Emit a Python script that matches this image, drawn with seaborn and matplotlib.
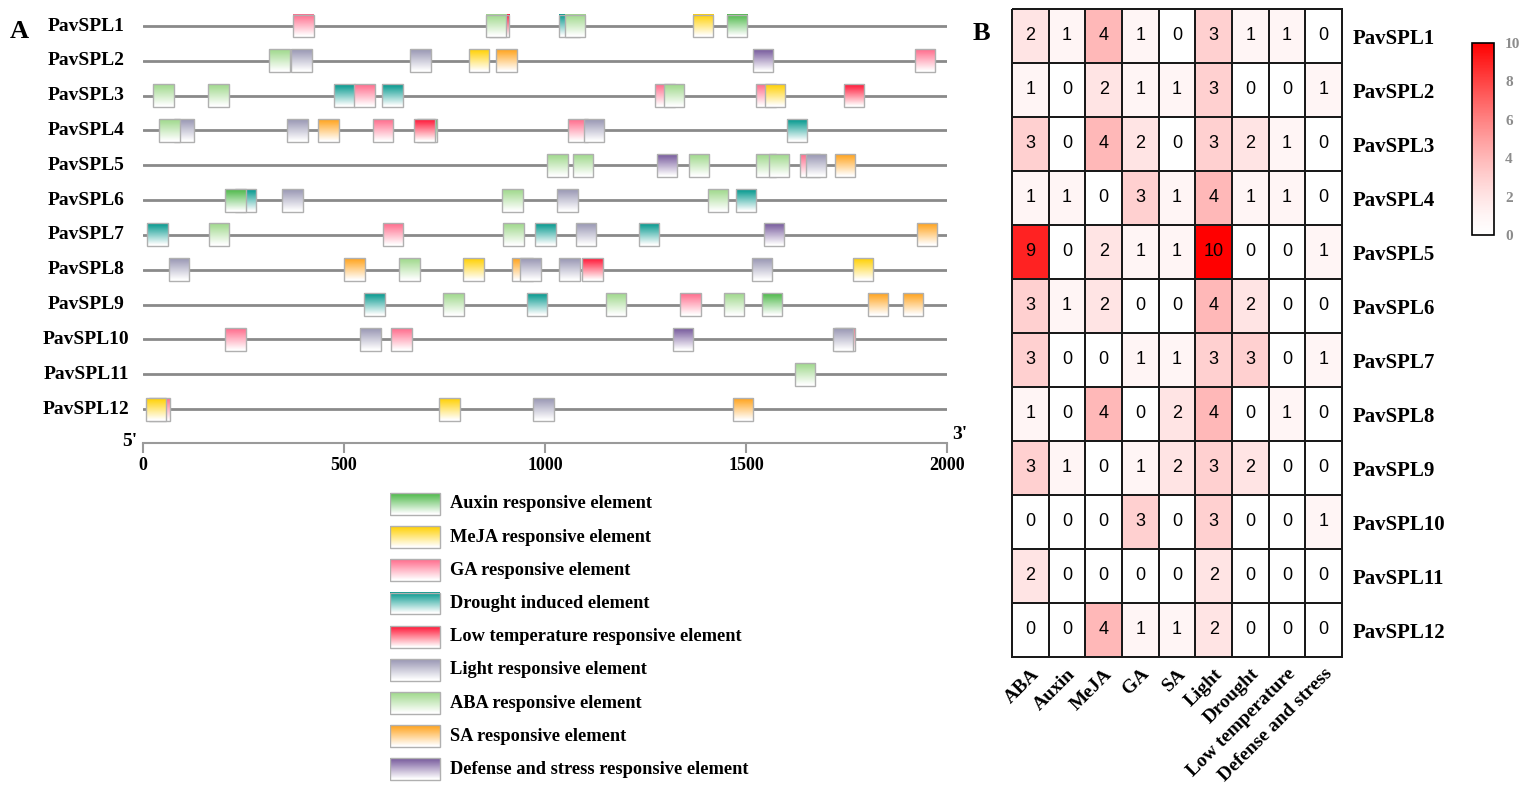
import numpy as np
import pandas as pd
import seaborn as sns
import matplotlib.pyplot as plt
from matplotlib.patches import Rectangle
from matplotlib.colors import LinearSegmentedColormap, to_rgb

sns.set_theme(style='white')
plt.rcParams['font.family'] = ['Liberation Serif', 'DejaVu Serif']
plt.rcParams['text.color'] = 'black'
plt.rcParams['xtick.labelcolor'] = 'black'
plt.rcParams['ytick.labelcolor'] = 'black'

W, H = 1528, 797

GENES = ['PavSPL1', 'PavSPL2', 'PavSPL3', 'PavSPL4', 'PavSPL5', 'PavSPL6',
         'PavSPL7', 'PavSPL8', 'PavSPL9', 'PavSPL10', 'PavSPL11', 'PavSPL12']

# (element type, start position in bp), in drawing order
SPL1 = [('GA', 374), ('LowT', 860), ('ABA', 852), ('Drought', 1036), ('ABA', 1049),
        ('MeJA', 1367), ('Auxin', 1452)]
SPL2 = [('ABA', 314), ('Light', 369), ('Light', 665), ('MeJA', 810), ('SA', 879),
        ('Defense', 1517), ('GA', 1920)]
SPL3 = [('ABA', 25), ('ABA', 162), ('Drought', 476), ('GA', 526), ('Drought', 595),
        ('GA', 1273), ('ABA', 1295), ('GA', 1524), ('MeJA', 1547), ('LowT', 1743)]
SPL4 = [('Light', 77), ('ABA', 40), ('Light', 359), ('SA', 436), ('GA', 572),
        ('Auxin', 681), ('LowT', 675), ('GA', 1056), ('Light', 1096), ('Drought', 1601)]
SPL5 = [('ABA', 1006), ('ABA', 1069), ('Defense', 1278), ('ABA', 1357), ('ABA', 1524),
        ('ABA', 1557), ('GA', 1634), ('Light', 1649), ('SA', 1721)]
SPL6 = [('Drought', 229), ('Auxin', 204), ('Light', 346), ('ABA', 894), ('Light', 1031),
        ('ABA', 1405), ('Drought', 1474)]
SPL7 = [('Drought', 10), ('ABA', 164), ('GA', 597), ('ABA', 896), ('Drought', 976),
        ('Light', 1076), ('Drought', 1233), ('Defense', 1544), ('SA', 1925)]
SPL8 = [('Light', 64), ('SA', 500), ('ABA', 637), ('MeJA', 797), ('SA', 919),
        ('Light', 939), ('Light', 1036), ('LowT', 1093), ('Light', 1514), ('MeJA', 1766)]
SPL9 = [('Drought', 550), ('ABA', 747), ('Drought', 954), ('ABA', 1151), ('GA', 1337),
        ('ABA', 1445), ('Auxin', 1539), ('SA', 1803), ('SA', 1890)]
SPL10 = [('GA', 204), ('Light', 540), ('GA', 618), ('Defense', 1318), ('GA', 1721),
         ('Light', 1716)]
SPL11 = [('ABA', 1621)]
SPL12 = [('GA', 15), ('MeJA', 7), ('MeJA', 737), ('Light', 971), ('SA', 1467)]
ELEMENTS = [SPL1, SPL2, SPL3, SPL4, SPL5, SPL6, SPL7, SPL8, SPL9, SPL10, SPL11, SPL12]

LEGEND_KEYS = ['Auxin', 'MeJA', 'GA', 'Drought', 'LowT', 'Light', 'ABA', 'SA', 'Defense']
LEGEND_LABELS = ['Auxin responsive element', 'MeJA responsive element',
                 'GA responsive element', 'Drought induced element',
                 'Low temperature responsive element', 'Light responsive element',
                 'ABA responsive element', 'SA responsive element',
                 'Defense and stress responsive element']
TYPE_COLORS = {'Auxin': '#4cb848', 'MeJA': '#ffd000', 'GA': '#ff6b8b',
               'Drought': '#00978c', 'LowT': '#ff1535', 'Light': '#9896b3',
               'ABA': '#9ed88a', 'SA': '#ffa21a', 'Defense': '#75589b'}

AXIS_TICKS = [0, 500, 1000, 1500, 2000]

HEAT_COLS = ['ABA', 'Auxin', 'MeJA', 'GA', 'SA', 'Light', 'Drought',
             'Low temperature', 'Defense and stress']
HEAT_VALUES = [
    [2, 1, 4, 1, 0, 3, 1, 1, 0],
    [1, 0, 2, 1, 1, 3, 0, 0, 1],
    [3, 0, 4, 2, 0, 3, 2, 1, 0],
    [1, 1, 0, 3, 1, 4, 1, 1, 0],
    [9, 0, 2, 1, 1, 10, 0, 0, 1],
    [3, 1, 2, 0, 0, 4, 2, 0, 0],
    [3, 0, 0, 1, 1, 3, 3, 0, 1],
    [1, 0, 4, 0, 2, 4, 0, 1, 0],
    [3, 1, 0, 1, 2, 3, 2, 0, 0],
    [0, 0, 0, 3, 0, 3, 0, 0, 1],
    [2, 0, 0, 0, 0, 2, 0, 0, 0],
    [0, 0, 4, 1, 1, 2, 0, 0, 0],
]

BOX_W = 51
BOX_H = 0.66
BOLD = dict(family=['Liberation Serif', 'DejaVu Serif'], fontweight='bold')


def draw_box(ax, x0, yc, w, h, color):
    t = np.linspace(0, 1, 40)[:, None, None]
    c = np.array(to_rgb(color))[None, None, :]
    wgt = np.clip(1 - t * 1.05, 0, 1)
    grad = c * wgt + (1 - wgt)
    ax.imshow(grad, extent=[x0, x0 + w, yc + h / 2, yc - h / 2], aspect='auto',
              interpolation='bilinear', zorder=3)
    ax.add_patch(Rectangle((x0, yc - h / 2), w, h, fill=False, ec='#b0b0b0',
                           lw=1, zorder=3))


fig = plt.figure(figsize=(W / 100, H / 100), dpi=100)

# Panel A: promoter diagrams
ax_a = fig.add_axes([143 / W, 1 - 443 / H, (947 - 143) / W, (443 - 8) / H])
for i, (gene, elems) in enumerate(zip(GENES, ELEMENTS)):
    ax_a.plot([0, 2000], [i, i], color='#8a8a8a', lw=2, zorder=1)
    for kind, start in elems:
        draw_box(ax_a, start, i, BOX_W, BOX_H, TYPE_COLORS[kind])
    ax_a.text(-142, i, gene, ha='center', va='center', fontsize=14, clip_on=False, **BOLD)
ax_a.set_xlim(0, 2000)
ax_a.set_ylim(11.976, -0.517)
for s in ['top', 'left', 'right']:
    ax_a.spines[s].set_visible(False)
ax_a.spines['bottom'].set_color('#9a9a9a')
ax_a.spines['bottom'].set_linewidth(1.5)
ax_a.set_yticks([])
ax_a.set_xticks(AXIS_TICKS)
ax_a.set_xticklabels([str(t) for t in AXIS_TICKS], fontsize=13, **BOLD)
ax_a.tick_params(axis='x', direction='out', length=7, width=1.5, color='#9a9a9a',
                 labelcolor='black', pad=3, bottom=True)
ax_a.grid(False)
ax_a.text(-32, 11.92, "5'", ha='center', va='center', fontsize=14, clip_on=False, **BOLD)
ax_a.text(2032, 11.72, "3'", ha='center', va='center', fontsize=14, clip_on=False, **BOLD)

# legend
ax_l = fig.add_axes([390 / W, 1 - 786 / H, 410 / W, (786 - 487.4) / H])
for i, (key, lab) in enumerate(zip(LEGEND_KEYS, LEGEND_LABELS)):
    draw_box(ax_l, 0, i, 50, BOX_H, TYPE_COLORS[key])
    ax_l.text(60, i, lab, ha='left', va='center', fontsize=13.2, **BOLD)
ax_l.set_xlim(0, 410)
ax_l.set_ylim(8.5, -0.5)
ax_l.axis('off')

# Panel B: heatmap
df = pd.DataFrame(HEAT_VALUES, index=GENES, columns=HEAT_COLS)
vals = np.linspace(0, 1, 11)
cmap = LinearSegmentedColormap.from_list(
    'wr', [(1.0, 1 - v ** 1.4, 1 - v ** 1.4) for v in vals])

ax_b = fig.add_axes([1012 / W, 1 - 657 / H, 330 / W, 648 / H])
cax = fig.add_axes([1472 / W, 1 - 235 / H, 22 / W, 192 / H])
sns.heatmap(df, ax=ax_b, cbar_ax=cax, cmap=cmap, vmin=0, vmax=10, annot=True, fmt='d',
            linewidths=1.2, linecolor='#1a1a1a',
            annot_kws={'fontsize': 13, 'family': 'Liberation Sans', 'color': 'black'})
ax_b.collections[0].set_clip_on(False)
ax_b.yaxis.set_ticks_position('right')
ax_b.tick_params(axis='y', length=0, pad=8, labelright=True, labelleft=False)
ax_b.set_yticklabels(GENES, rotation=0, fontsize=15, color='black', **BOLD)
ax_b.tick_params(axis='x', length=0, pad=6)
ax_b.set_xticklabels(HEAT_COLS, rotation=45, ha='right', va='top',
                     rotation_mode='anchor', fontsize=14, color='black', **BOLD)
ax_b.set_xlabel('')
ax_b.set_ylabel('')

cbar = ax_b.collections[0].colorbar
cbar.outline.set_edgecolor('black')
cbar.outline.set_linewidth(1.2)
cbar.set_ticks([0, 2, 4, 6, 8, 10])
cbar.ax.tick_params(length=0, labelcolor='#8c8c8c', labelsize=11, pad=8)
for lab in cbar.ax.get_yticklabels():
    lab.set_fontweight('bold')
    lab.set_fontsize(11)

fig.text(19 / W, 1 - 31 / H, 'A', ha='center', va='center', fontsize=19, **BOLD)
fig.text(981 / W, 1 - 34 / H, 'B', ha='center', va='center', fontsize=19, **BOLD)

fig.savefig('out.png', dpi=100)
